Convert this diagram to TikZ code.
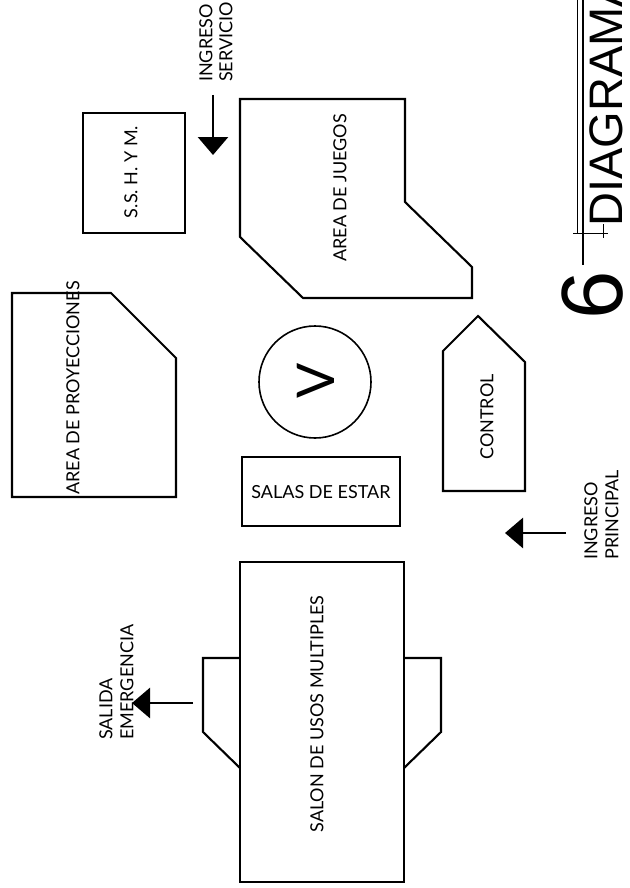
\documentclass[tikz,border=0pt]{standalone}
\usepackage{fontspec}
\setmainfont{Lato}
\newfontfamily\titlefont{Liberation Sans}
\usetikzlibrary{arrows.meta}
\begin{document}
\begin{tikzpicture}[x=1pt,y=-1pt,
  room/.style={draw,line width=2.1pt,line join=miter},
  lbl/.style={font=\fontsize{18}{18}\selectfont,inner sep=0pt},
  vlbl/.style={lbl,rotate=90},
  note/.style={lbl,rotate=90,anchor=west},
  flow/.style={line width=2.8pt,-{Triangle[length=18pt,width=30pt]}},
  thin/.style={line width=0.9pt}]
\useasboundingbox (0,0) rectangle (629,888);
\clip (0,0) rectangle (629,888);

% rooms
\draw[room] (83,113) rectangle (185,233);
\node[vlbl] (ssh) at (131,172) {S.S. H. Y M.};

\draw[room] (240,99) -- (405,99) -- (405,202) -- (472,267) -- (472,298)
  -- (303,298) -- (240,237) -- cycle;
\node[vlbl] (juegos) at (340,188) {AREA DE JUEGOS};

\draw[room] (12,293) -- (111,293) -- (176,358) -- (176,497) -- (12,497) -- cycle;
\node[vlbl] (proy) at (73,388) {AREA DE PROYECCIONES};

\draw[room,line width=1.6pt] (315,382) circle (56);
\node[vlbl,font=\fontsize{52}{52}\selectfont] (v) at (316,381) {V};

\draw[room] (242,457) rectangle (400,526);
\node[lbl] (estar) at (321,492) {SALAS DE ESTAR};

\draw[room] (443,491) -- (525,491) -- (525,362) -- (478,316) -- (443,351) -- cycle;
\node[vlbl] (control) at (487,417) {CONTROL};

\draw[room] (240,562) rectangle (404,882);
\draw[room] (240,658) -- (203,658) -- (203,732) -- (240,768);
\draw[room] (404,658) -- (441,658) -- (441,732) -- (404,768);
\node[vlbl] (salon) at (317,714) {SALON DE USOS MULTIPLES};

% accesses
\coordinate (s0) at (213,95);  \coordinate (s1) at (213,155);
\draw[flow] (s0) -- (s1);
\node[note] (ing1) at (206,82) {INGRESO};
\node[note] (ser1) at (226,82) {SERVICIO};

\coordinate (p0) at (566,533); \coordinate (p1) at (505,533);
\draw[flow] (p0) -- (p1);
\node[note] (ing2) at (591,560) {INGRESO};
\node[note] (pri2) at (612,560) {PRINCIPAL};

\coordinate (e0) at (193,703); \coordinate (e1) at (132,703);
\draw[flow] (e0) -- (e1);
\node[note] (sal) at (106,740) {SALIDA};
\node[note] (eme) at (127,740) {EMERGENCIA};

% title
\draw[thin] (577,0) -- (577,233);
\draw[line width=1.6pt] (583,0) -- (583,265);
\draw[thin] (573,233) -- (608,233);
\draw[thin] (603,224) -- (603,238);
\node[rotate=90,anchor=base west,inner sep=0pt,font=\titlefont\fontsize{87}{87}\selectfont] (six) at (622,320) {6};
\node[rotate=90,anchor=base west,inner sep=0pt,font=\titlefont\fontsize{47}{47}\selectfont] (title) at (622,227) {DIAGRAMA};
\end{tikzpicture}
\end{document}
